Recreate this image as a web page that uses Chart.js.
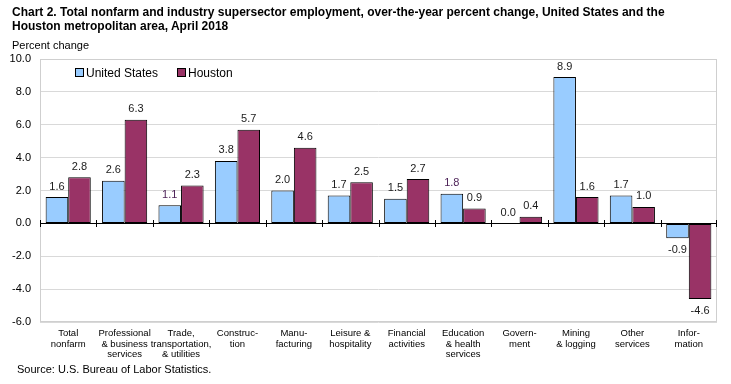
<!DOCTYPE html>
<html><head><meta charset="utf-8">
<script src="https://cdn.jsdelivr.net/npm/chart.js@4.4.1/dist/chart.umd.min.js"></script>
<style>
html,body{margin:0;padding:0;background:#fff;}
#wrap{position:relative;width:731px;height:384px;overflow:hidden;font-family:"Liberation Sans",Arial,sans-serif;color:#000;}
#c{position:absolute;left:0;top:0;}
.t{position:absolute;white-space:nowrap;}
#title{left:12px;top:5px;font-weight:bold;font-size:12px;line-height:14px;}
#yl{left:12px;top:39px;font-size:11px;}
#src{left:17px;top:363px;font-size:11px;}
.lg{position:absolute;top:66px;font-size:12px;white-space:nowrap;}
.lg i{display:inline-block;width:7px;height:7px;border:1px solid #000;margin-right:2px;vertical-align:0px;}
</style></head>
<body><div id="wrap">
<canvas id="c" width="731" height="384"></canvas>
<div class="t" id="title">Chart 2. Total nonfarm and industry supersector employment, over-the-year percent change, United States and the<br>Houston metropolitan area, April 2018</div>
<div class="t" id="yl">Percent change</div>
<div class="t" id="src">Source: U.S. Bureau of Labor Statistics.</div>
<div class="lg" style="left:75px"><i style="background:#99CCFF"></i>United States</div>
<div class="lg" style="left:177px"><i style="background:#993366"></i>Houston</div>
</div>
<script>
const categories = [
  ["Total","nonfarm"],
  ["Professional","& business","services"],
  ["Trade,","transportation,","& utilities"],
  ["Construc-","tion"],
  ["Manu-","facturing"],
  ["Leisure &","hospitality"],
  ["Financial","activities"],
  ["Education","& health","services"],
  ["Govern-","ment"],
  ["Mining","& logging"],
  ["Other","services"],
  ["Infor-","mation"]
];
const unitedStates = [1.6, 2.6, 1.1, 3.8, 2.0, 1.7, 1.5, 1.8, 0.0, 8.9, 1.7, -0.9];
const houston = [2.8, 6.3, 2.3, 5.7, 4.6, 2.5, 2.7, 0.9, 0.4, 1.6, 1.0, -4.6];
const yTicks = [-6, -4, -2, 0, 2, 4, 6, 8, 10];

const labelPlugin = {
  id: 'labels',
  afterDatasetsDraw(chart) {
    const ctx = chart.ctx;
    ctx.save();
    ctx.font = '11px "Liberation Sans", Arial, sans-serif';
    ctx.textAlign = 'center';
    chart.data.datasets.forEach((ds, di) => {
      const meta = chart.getDatasetMeta(di);
      meta.data.forEach((bar, i) => {
        const v = ds.data[i];
        ctx.fillStyle = (di === 0 && (i === 2 || i === 7)) ? '#4a1f55' : '#1a1a1a';
        if (v >= 0) {
          ctx.textBaseline = 'bottom';
          ctx.fillText(v.toFixed(1), bar.x, bar.y - 5);
        } else {
          ctx.textBaseline = 'top';
          ctx.fillText(v.toFixed(1), bar.x, bar.y + 6);
        }
      });
    });
    ctx.restore();
  }
};
const framePlugin = {
  id: 'frame',
  beforeDatasetsDraw(chart) {
    const {ctx, chartArea: a} = chart;
    ctx.save();
    ctx.strokeStyle = '#cfcfcf';
    ctx.lineWidth = 1;
    ctx.strokeRect(Math.round(a.left)+0.5, Math.round(a.top)+0.5, Math.round(a.right-a.left)-1, Math.round(a.bottom-a.top)-1);
    ctx.restore();
  },
  afterDatasetsDraw(chart) {
    const {ctx, chartArea: a, scales} = chart;
    const y0 = Math.round(scales.y.getPixelForValue(0)) + 0.5;
    ctx.save();
    ctx.strokeStyle = '#000';
    ctx.lineWidth = 1;
    ctx.beginPath();
    ctx.moveTo(a.left, y0); ctx.lineTo(a.right, y0);
    const n = categories.length;
    for (let i = 0; i <= n; i++) {
      const x = Math.round(a.left + i * (a.right - a.left) / n) + 0.5 - (i === n ? 1 : 0);
      ctx.moveTo(x, y0 - 3.5); ctx.lineTo(x, y0 + 3.5);
    }
    ctx.stroke();
    ctx.restore();
  }
};

new Chart(document.getElementById('c'), {
  type: 'bar',
  data: {
    labels: categories,
    datasets: [
      {label: 'United States', data: unitedStates, backgroundColor: '#99CCFF', borderColor: '#000', borderWidth: 1, borderSkipped: false},
      {label: 'Houston', data: houston, backgroundColor: '#993366', borderColor: '#000', borderWidth: 1, borderSkipped: false}
    ]
  },
  options: {
    responsive: false,
    animation: false,
    devicePixelRatio: 1,
    layout: {padding: {left: 0, top: 59, right: 14, bottom: 0}},
    datasets: {bar: {barPercentage: 1.0, categoryPercentage: 0.8}},
    plugins: {legend: {display: false}, tooltip: {enabled: false}, title: {display: false}},
    scales: {
      x: {
        grid: {display: false, drawTicks: false},
        border: {display: false},
        ticks: {
          color: '#000', padding: 6, maxRotation: 0, autoSkip: false,
          font: {family: '"Liberation Sans", Arial, sans-serif', size: 9.5, lineHeight: 1.13}
        },
        afterFit(s) { s.height = 62; }
      },
      y: {
        min: -6, max: 10,
        afterBuildTicks(s) { s.ticks = yTicks.map(v => ({value: v})); },
        grid: {color: '#d9d9d9', drawTicks: false},
        border: {display: false},
        ticks: {
          color: '#000', padding: 9,
          font: {family: '"Liberation Sans", Arial, sans-serif', size: 11},
          callback: v => Number(v).toFixed(1)
        },
        afterFit(s) { s.width = 40; }
      }
    }
  },
  plugins: [framePlugin, labelPlugin]
});
</script>
</body></html>
